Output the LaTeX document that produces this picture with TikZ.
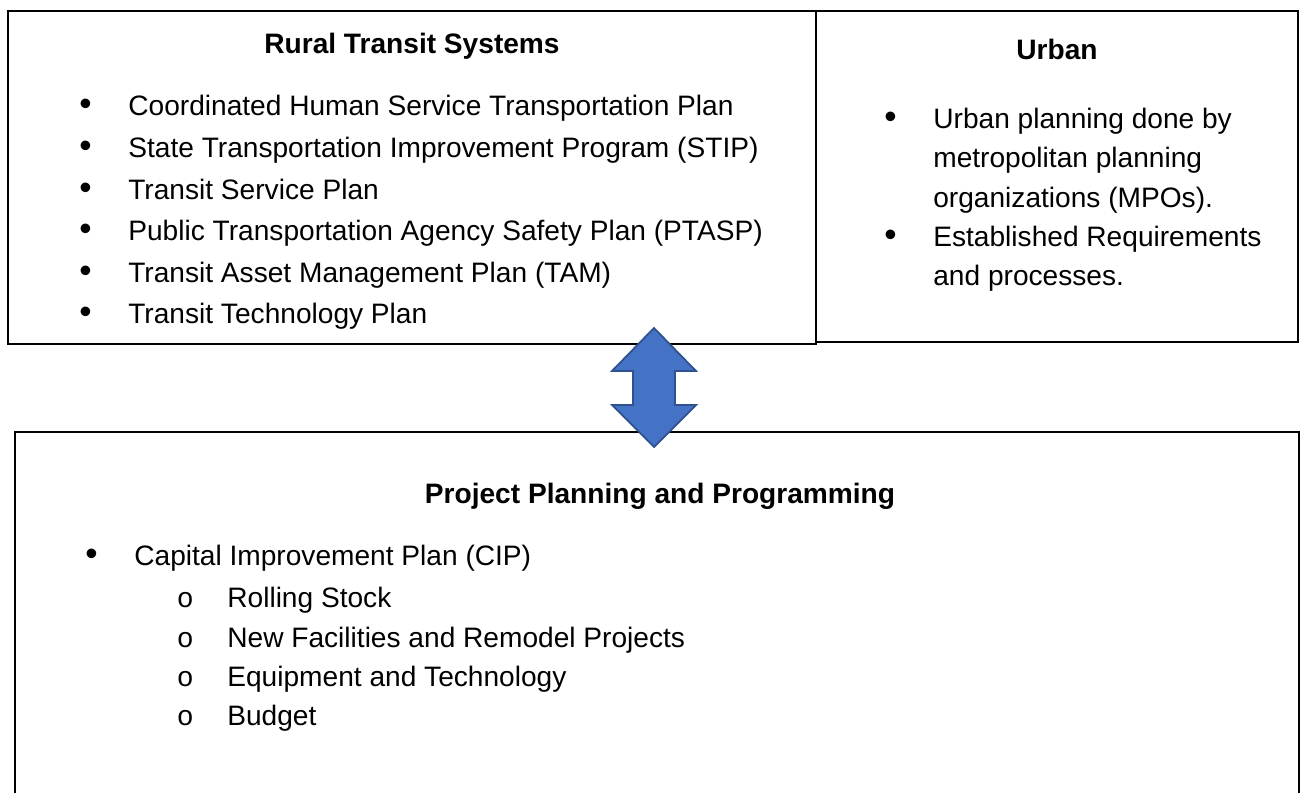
\documentclass[tikz,border=0pt]{standalone}
\usepackage{fontspec}
\setmainfont{Liberation Sans}
\newfontfamily\circfont{Liberation Mono}

% list marks: filled dot for items, small "o" for sub-items
\newcommand\dotbul{\makebox[0.98cm][l]{\fontsize{20}{20}\selectfont\textbullet}}
\newcommand\circbul{\makebox[1.01cm][l]{\circfont o}}

\begin{document}
\begin{tikzpicture}[x=0.02cm, y=-0.02cm,
    box node/.style={draw, line width=1.5pt, inner sep=0pt},
    title node/.style={anchor=base, font=\fontsize{16}{19}\selectfont\bfseries},
    item node/.style={anchor=base west, inner sep=0pt},
    link/.style={fill=arrowblue, draw=arrowedge, line width=1pt, line join=miter}]
  \tikzstyle{every node}=[font=\fontsize{16}{19}\selectfont]
  \definecolor{arrowblue}{HTML}{4472C4}
  \definecolor{arrowedge}{HTML}{2F528F}

  \clip (0,0) rectangle (1300,793);

  % the three frames
  \node[box node, minimum width=16.16cm, minimum height=6.66cm] (rural) at (412,177.5) {};
  \node[box node, minimum width=9.64cm, minimum height=6.62cm] (urban) at (1057,176.5) {};
  \node[box node, minimum width=25.68cm, minimum height=7.36cm] (plan) at (657,616) {};

  % rural transit systems
  \node[title node] (rt) at (412,54) {Rural Transit Systems};
  \node[item node] (r1) at (79,116) {\dotbul Coordinated Human Service Transportation Plan};
  \node[item node] (r2) at (79,157.6) {\dotbul State Transportation Improvement Program (STIP)};
  \node[item node] (r3) at (79,199.2) {\dotbul Transit Service Plan};
  \node[item node] (r4) at (79,240.8) {\dotbul Public Transportation Agency Safety Plan (PTASP)};
  \node[item node] (r5) at (79,282.4) {\dotbul Transit Asset Management Plan (TAM)};
  \node[item node] (r6) at (79,324) {\dotbul Transit Technology Plan};

  % urban
  \node[title node] (ut) at (1057,60) {Urban};
  \node[item node] (u1) at (884,129) {\dotbul Urban planning done by};
  \node[item node] (u2) at (933,168) {metropolitan planning};
  \node[item node] (u3) at (933,208) {organizations (MPOs).};
  \node[item node] (u4) at (884,247) {\dotbul Established Requirements};
  \node[item node] (u5) at (933,286) {and processes.};

  % project planning and programming
  \node[title node] (pt) at (660,503) {Project Planning and Programming};
  \node[item node] (p1) at (85,565) {\dotbul Capital Improvement Plan (CIP)};
  \node[item node] (p2) at (176.5,607) {\circbul Rolling Stock};
  \node[item node] (p3) at (176.5,647) {\circbul New Facilities and Remodel Projects};
  \node[item node] (p4) at (176.5,686) {\circbul Equipment and Technology};
  \node[item node] (p5) at (176.5,725) {\circbul Budget};

  % two-way block arrow between the upper and lower frames
  \coordinate (link) at (654,387.5);
  \draw[link, shift={(link)}] (0,-59.5) -- (-42,-16.5) -- (-21,-16.5) -- (-21,17.5)
    -- (-42,17.5) -- (0,59.5) -- (42,17.5) -- (21,17.5) -- (21,-16.5) -- (42,-16.5) -- cycle;
\end{tikzpicture}
\end{document}
